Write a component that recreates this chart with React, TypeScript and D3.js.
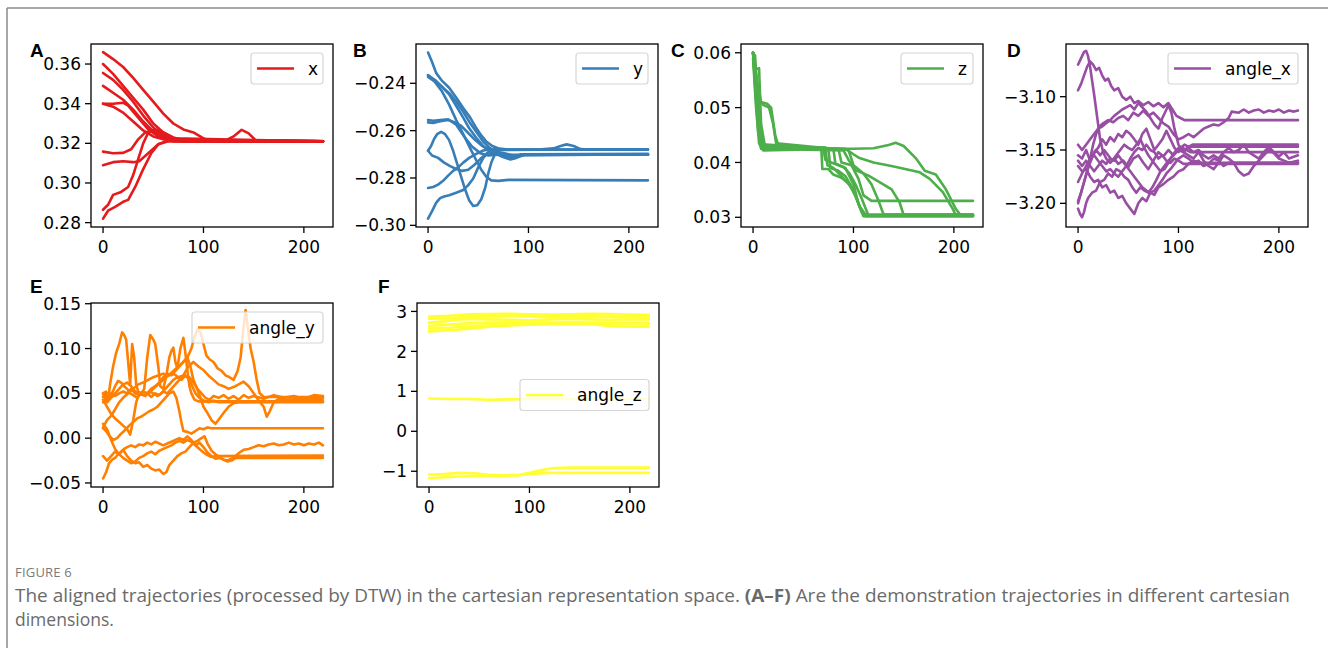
import React from 'react';
import * as d3 from 'd3';

type Pt = [number, number];

// trajectories, [step, value]
const xTraj: Pt[][] = [
  [[0,0.366],[10,0.3625],[20,0.3585],[30,0.353],[40,0.347],[50,0.341],[60,0.335],[70,0.330],[80,0.327],[90,0.3255],[100,0.3225],[110,0.321],[219,0.321]],
  [[0,0.360],[10,0.355],[20,0.349],[30,0.343],[40,0.337],[50,0.330],[60,0.3255],[70,0.323],[80,0.3215],[219,0.3212]],
  [[0,0.3555],[10,0.352],[20,0.347],[30,0.341],[40,0.334],[50,0.328],[60,0.3235],[70,0.3215],[219,0.321]],
  [[0,0.349],[10,0.3455],[20,0.342],[30,0.337],[40,0.331],[50,0.326],[60,0.3225],[70,0.321],[219,0.321]],
  [[0,0.340],[10,0.340],[20,0.3405],[25,0.339],[35,0.333],[45,0.327],[55,0.3235],[65,0.3215],[219,0.321]],
  [[0,0.340],[10,0.3385],[20,0.3355],[30,0.331],[40,0.3265],[50,0.3235],[60,0.322],[120,0.321],[130,0.3235],[138,0.3268],[145,0.325],[152,0.3215],[219,0.321]],
  [[0,0.3158],[10,0.315],[20,0.3152],[28,0.317],[35,0.322],[42,0.3255],[50,0.3265],[58,0.325],[68,0.322],[80,0.321],[219,0.321]],
  [[0,0.309],[10,0.3105],[20,0.311],[30,0.3105],[36,0.311],[45,0.315],[55,0.3195],[65,0.321],[219,0.321]],
  [[0,0.2865],[5,0.289],[10,0.294],[18,0.2955],[25,0.298],[30,0.304],[35,0.312],[40,0.320],[45,0.3255],[52,0.327],[60,0.3255],[70,0.3225],[219,0.321]],
  [[0,0.282],[5,0.286],[12,0.288],[20,0.2905],[25,0.2915],[32,0.298],[40,0.307],[48,0.315],[55,0.3195],[65,0.3215],[219,0.321]],
];

const yTraj: Pt[][] = [
  [[0,-0.227],[4,-0.231],[8,-0.2356],[14,-0.239],[21,-0.2419],[28,-0.246],[35,-0.2504],[42,-0.2545],[48,-0.2589],[53,-0.262],[58,-0.2646],[64,-0.2665],[71,-0.2676],[80,-0.268],[219,-0.268]],
  [[0,-0.2366],[8,-0.239],[15,-0.242],[22,-0.2445],[28,-0.2477],[35,-0.252],[41,-0.2562],[48,-0.2605],[55,-0.2647],[62,-0.2675],[68,-0.2689],[75,-0.2695],[85,-0.2705],[219,-0.270]],
  [[0,-0.2373],[4,-0.2385],[8,-0.2395],[14,-0.2415],[21,-0.2447],[28,-0.2495],[35,-0.2545],[41,-0.259],[48,-0.263],[56,-0.267],[65,-0.2695],[75,-0.270],[85,-0.2715],[95,-0.270],[219,-0.2702]],
  [[0,-0.2365],[7,-0.2395],[14,-0.2435],[21,-0.249],[28,-0.2555],[35,-0.2615],[42,-0.2675],[48,-0.2725],[53,-0.2765],[58,-0.2795],[63,-0.281],[70,-0.2812],[80,-0.2808],[219,-0.281]],
  [[0,-0.2565],[5,-0.2568],[10,-0.2562],[15,-0.2558],[20,-0.2555],[27,-0.2565],[33,-0.258],[40,-0.261],[47,-0.264],[54,-0.2665],[62,-0.268],[70,-0.2682],[110,-0.268],[125,-0.2675],[132,-0.2665],[138,-0.2658],[145,-0.2665],[152,-0.2678],[160,-0.268],[219,-0.268]],
  [[0,-0.2685],[3,-0.2665],[6,-0.2635],[9,-0.2615],[13,-0.2605],[17,-0.2615],[21,-0.264],[25,-0.2685],[29,-0.274],[33,-0.2795],[37,-0.285],[41,-0.2895],[45,-0.2918],[49,-0.2915],[53,-0.289],[57,-0.284],[60,-0.278],[63,-0.2735],[66,-0.2705],[70,-0.2695],[78,-0.2705],[85,-0.2715],[92,-0.270],[219,-0.2698]],
  [[0,-0.2842],[5,-0.2838],[10,-0.2828],[15,-0.2812],[20,-0.279],[25,-0.277],[30,-0.2755],[35,-0.2735],[41,-0.2715],[48,-0.2698],[55,-0.2684],[62,-0.2678],[75,-0.268],[219,-0.268]],
  [[0,-0.2972],[4,-0.294],[8,-0.2905],[12,-0.2885],[16,-0.2878],[21,-0.2873],[28,-0.2862],[35,-0.2851],[40,-0.283],[45,-0.2802],[50,-0.2755],[55,-0.2715],[61,-0.2685],[70,-0.2695],[80,-0.2715],[88,-0.271],[95,-0.2702],[219,-0.2702]],
  [[0,-0.2685],[4,-0.2705],[10,-0.2715],[16,-0.2735],[22,-0.275],[28,-0.2762],[34,-0.277],[40,-0.2765],[46,-0.2745],[52,-0.272],[58,-0.2698],[66,-0.2695],[74,-0.271],[82,-0.2722],[88,-0.2715],[96,-0.2702],[219,-0.2702]],
  [[0,-0.2555],[5,-0.2558],[12,-0.2555],[20,-0.2552],[28,-0.2575],[36,-0.2625],[44,-0.2668],[52,-0.2695],[60,-0.2705],[70,-0.2702],[219,-0.270]],
];

const zTraj: Pt[][] = [
  [[0,0.0600],[2,0.0595],[5,0.050],[7,0.0435],[10,0.0425],[68,0.0425],[69,0.0388],[75,0.0388],[80,0.0378],[88,0.0372],[95,0.0362],[102,0.034],[108,0.031],[112,0.0302],[219,0.0302]],
  [[0,0.060],[3,0.057],[6,0.0572],[8,0.047],[12,0.0428],[70,0.0425],[72,0.0405],[78,0.040],[85,0.0395],[92,0.039],[100,0.036],[105,0.0325],[110,0.0303],[219,0.0303]],
  [[0,0.060],[4,0.055],[8,0.051],[14,0.0507],[18,0.050],[22,0.045],[25,0.0432],[75,0.0425],[77,0.039],[85,0.0385],[92,0.0375],[100,0.035],[106,0.032],[112,0.0305],[219,0.0305]],
  [[0,0.060],[5,0.052],[10,0.0505],[16,0.050],[20,0.047],[23,0.0435],[80,0.0425],[82,0.0398],[90,0.0392],[96,0.038],[102,0.036],[108,0.0335],[115,0.0303],[219,0.0303]],
  [[0,0.059],[3,0.050],[6,0.0435],[10,0.0422],[85,0.0425],[88,0.040],[98,0.0395],[105,0.037],[110,0.034],[118,0.033],[219,0.0330]],
  [[0,0.060],[2,0.054],[5,0.046],[8,0.0425],[90,0.0422],[95,0.0405],[102,0.0386],[115,0.0376],[128,0.0362],[138,0.0351],[146,0.0327],[150,0.0304],[219,0.0304]],
  [[0,0.060],[3,0.052],[6,0.045],[12,0.043],[92,0.0425],[100,0.0415],[106,0.0408],[120,0.040],[139,0.0393],[166,0.0382],[176,0.037],[189,0.0346],[199,0.0315],[202,0.0303],[219,0.0303]],
  [[0,0.060],[4,0.051],[8,0.0435],[12,0.0425],[100,0.0425],[120,0.0426],[135,0.0432],[142,0.0436],[150,0.043],[162,0.0408],[171,0.0385],[182,0.0378],[192,0.0351],[202,0.0315],[207,0.0303],[219,0.0303]],
  [[0,0.060],[2,0.056],[5,0.0475],[8,0.0428],[72,0.0427],[74,0.0395],[80,0.039],[88,0.0375],[98,0.0355],[105,0.0325],[110,0.0302],[219,0.0302]],
  [[0,0.060],[3,0.0555],[6,0.049],[9,0.0433],[95,0.0423],[100,0.0395],[110,0.038],[118,0.036],[125,0.033],[130,0.0305],[219,0.0305]],
];

const angleXTraj: Pt[][] = [
  [[0,-3.07],[2,-3.066],[4,-3.062],[6,-3.058],[8,-3.057],[10,-3.062],[12,-3.072],[14,-3.085],[16,-3.098],[18,-3.112],[20,-3.126],[22,-3.14],[25,-3.152],[28,-3.158],[32,-3.162],[36,-3.158],[40,-3.163],[45,-3.16],[50,-3.166],[55,-3.158],[60,-3.155],[65,-3.162],[70,-3.168],[75,-3.16],[80,-3.152],[85,-3.156],[90,-3.15],[95,-3.155],[100,-3.148],[105,-3.152],[110,-3.147],[219,-3.147]],
  [[0,-3.094],[3,-3.088],[6,-3.08],[9,-3.072],[12,-3.067],[15,-3.07],[18,-3.075],[21,-3.073],[24,-3.08],[27,-3.085],[30,-3.083],[33,-3.09],[36,-3.094],[40,-3.092],[44,-3.1],[48,-3.103],[52,-3.1],[56,-3.106],[60,-3.104],[65,-3.108],[70,-3.105],[75,-3.109],[80,-3.106],[85,-3.11],[90,-3.106],[94,-3.112],[98,-3.118],[102,-3.12],[106,-3.122],[219,-3.122]],
  [[0,-3.2],[3,-3.19],[6,-3.18],[9,-3.17],[12,-3.158],[15,-3.145],[18,-3.135],[21,-3.128],[25,-3.125],[30,-3.122],[35,-3.124],[40,-3.12],[45,-3.118],[50,-3.122],[55,-3.115],[60,-3.118],[65,-3.113],[70,-3.118],[75,-3.115],[80,-3.12],[85,-3.125],[90,-3.128],[95,-3.135],[100,-3.14],[105,-3.138],[110,-3.135],[115,-3.138],[120,-3.134],[125,-3.13],[130,-3.128],[135,-3.126],[140,-3.127],[145,-3.124],[150,-3.12],[153,-3.114],[160,-3.115],[165,-3.112],[170,-3.115],[175,-3.113],[180,-3.112],[185,-3.115],[190,-3.113],[195,-3.114],[200,-3.112],[205,-3.115],[210,-3.113],[215,-3.114],[219,-3.113]],
  [[0,-3.165],[4,-3.17],[8,-3.168],[12,-3.175],[16,-3.18],[20,-3.178],[24,-3.185],[28,-3.183],[32,-3.19],[36,-3.188],[40,-3.195],[44,-3.193],[48,-3.2],[52,-3.205],[56,-3.21],[60,-3.2],[64,-3.195],[68,-3.198],[72,-3.19],[76,-3.192],[80,-3.185],[85,-3.182],[90,-3.178],[95,-3.175],[100,-3.17],[105,-3.168],[110,-3.163],[115,-3.16],[120,-3.162],[219,-3.162]],
  [[0,-3.205],[2,-3.21],[4,-3.213],[6,-3.208],[8,-3.2],[10,-3.195],[14,-3.19],[18,-3.188],[22,-3.18],[26,-3.178],[30,-3.172],[34,-3.175],[38,-3.168],[42,-3.17],[46,-3.175],[50,-3.178],[54,-3.185],[58,-3.19],[62,-3.185],[66,-3.188],[70,-3.19],[74,-3.185],[78,-3.178],[82,-3.17],[86,-3.165],[90,-3.16],[95,-3.155],[100,-3.15],[105,-3.152],[110,-3.155],[115,-3.158],[120,-3.152],[125,-3.16],[130,-3.165],[135,-3.168],[140,-3.162],[145,-3.155],[150,-3.158],[155,-3.162],[160,-3.17],[165,-3.174],[170,-3.172],[175,-3.165],[180,-3.16],[185,-3.155],[190,-3.15],[195,-3.153],[200,-3.158],[205,-3.16],[210,-3.162],[219,-3.16]],
  [[0,-3.155],[4,-3.158],[8,-3.15],[12,-3.16],[16,-3.152],[20,-3.148],[24,-3.14],[28,-3.145],[32,-3.138],[36,-3.142],[40,-3.135],[44,-3.138],[48,-3.132],[52,-3.135],[56,-3.14],[60,-3.145],[64,-3.135],[68,-3.13],[72,-3.14],[76,-3.15],[80,-3.145],[84,-3.14],[88,-3.132],[92,-3.14],[96,-3.148],[100,-3.152],[104,-3.148],[108,-3.15],[112,-3.152],[219,-3.152]],
  [[0,-3.16],[4,-3.165],[8,-3.16],[12,-3.165],[16,-3.17],[20,-3.165],[24,-3.16],[28,-3.163],[32,-3.158],[36,-3.16],[40,-3.155],[44,-3.16],[48,-3.165],[52,-3.17],[56,-3.175],[60,-3.18],[64,-3.185],[68,-3.188],[72,-3.19],[76,-3.188],[80,-3.183],[84,-3.178],[88,-3.172],[92,-3.168],[96,-3.163],[100,-3.158],[105,-3.155],[110,-3.158],[115,-3.162],[120,-3.16],[125,-3.165],[130,-3.163],[135,-3.158],[140,-3.16],[145,-3.165],[150,-3.162],[219,-3.162]],
  [[0,-3.145],[4,-3.15],[8,-3.145],[12,-3.14],[16,-3.135],[20,-3.13],[24,-3.128],[28,-3.125],[32,-3.122],[36,-3.118],[40,-3.115],[44,-3.112],[48,-3.11],[52,-3.108],[56,-3.112],[60,-3.106],[64,-3.11],[68,-3.114],[72,-3.12],[76,-3.126],[80,-3.13],[84,-3.12],[88,-3.112],[90,-3.108],[93,-3.115],[96,-3.13],[100,-3.145],[104,-3.15],[110,-3.148],[115,-3.152],[120,-3.15],[125,-3.155],[130,-3.158],[135,-3.155],[140,-3.158],[145,-3.152],[150,-3.148],[155,-3.152],[160,-3.15],[165,-3.145],[170,-3.152],[175,-3.155],[180,-3.158],[185,-3.152],[190,-3.147],[195,-3.152],[200,-3.156],[205,-3.152],[210,-3.158],[219,-3.155]],
  [[0,-3.18],[4,-3.172],[8,-3.165],[12,-3.158],[16,-3.155],[20,-3.16],[24,-3.165],[28,-3.17],[32,-3.168],[36,-3.172],[40,-3.175],[44,-3.17],[48,-3.165],[52,-3.158],[56,-3.152],[60,-3.148],[64,-3.15],[68,-3.145],[72,-3.15],[76,-3.152],[80,-3.158],[84,-3.155],[88,-3.16],[92,-3.162],[96,-3.158],[100,-3.16],[105,-3.163],[219,-3.163]],
  [[0,-3.198],[3,-3.19],[6,-3.18],[9,-3.17],[12,-3.162],[15,-3.155],[18,-3.15],[22,-3.155],[26,-3.15],[30,-3.155],[34,-3.16],[38,-3.155],[42,-3.15],[46,-3.145],[50,-3.148],[54,-3.15],[58,-3.145],[62,-3.14],[66,-3.148],[70,-3.155],[74,-3.16],[78,-3.165],[82,-3.17],[86,-3.168],[90,-3.162],[94,-3.155],[98,-3.15],[102,-3.148],[106,-3.145],[110,-3.147],[114,-3.145],[219,-3.145]],
];

const angleYTraj: Pt[][] = [
  [[0,0.046],[3,0.05],[5,0.042],[7,0.06],[10,0.08],[13,0.095],[16,0.105],[19,0.118],[21,0.115],[23,0.11],[25,0.085],[27,0.06],[29,0.105],[31,0.09],[33,0.06],[35,0.052],[38,0.05],[41,0.055],[44,0.09],[47,0.115],[50,0.11],[52,0.105],[55,0.08],[57,0.058],[60,0.055],[63,0.07],[66,0.09],[68,0.097],[70,0.101],[72,0.085],[74,0.078],[77,0.1],[80,0.112],[82,0.095],[84,0.075],[86,0.058],[88,0.05],[91,0.043],[95,0.041],[219,0.041]],
  [[0,0.04],[4,0.045],[8,0.05],[12,0.047],[16,0.05],[20,0.052],[24,0.05],[28,0.055],[32,0.05],[36,0.048],[40,0.052],[44,0.05],[48,0.055],[52,0.058],[56,0.062],[60,0.068],[64,0.072],[68,0.07],[72,0.075],[76,0.08],[80,0.085],[84,0.09],[88,0.1],[91,0.113],[94,0.121],[97,0.118],[100,0.105],[103,0.092],[106,0.088],[110,0.085],[114,0.078],[118,0.075],[122,0.07],[126,0.068],[130,0.065],[134,0.075],[137,0.09],[140,0.125],[142,0.143],[144,0.125],[147,0.1],[150,0.085],[153,0.065],[156,0.05],[160,0.046],[219,0.046]],
  [[0,0.012],[4,0.02],[8,0.025],[12,0.032],[16,0.04],[20,0.045],[25,0.05],[30,0.055],[35,0.06],[40,0.062],[45,0.065],[50,0.068],[55,0.07],[60,0.072],[65,0.07],[70,0.072],[75,0.068],[80,0.07],[85,0.08],[90,0.085],[95,0.08],[100,0.076],[105,0.07],[110,0.065],[115,0.06],[120,0.058],[125,0.055],[130,0.057],[135,0.06],[140,0.063],[145,0.058],[150,0.05],[155,0.042],[160,0.035],[163,0.024],[166,0.03],[170,0.04],[175,0.044],[180,0.043],[219,0.044]],
  [[0,0.05],[4,0.04],[8,0.045],[12,0.05],[16,0.055],[20,0.06],[24,0.062],[28,0.058],[32,0.052],[36,0.05],[40,0.048],[45,0.05],[50,0.055],[55,0.06],[60,0.065],[65,0.07],[70,0.075],[75,0.08],[80,0.085],[84,0.09],[87,0.08],[90,0.065],[93,0.057],[97,0.045],[100,0.035],[104,0.028],[108,0.02],[112,0.016],[116,0.022],[120,0.028],[125,0.035],[130,0.039],[135,0.04],[219,0.04]],
  [[0,0.011],[3,0.008],[6,0.003],[10,-0.002],[14,0.0],[18,0.005],[22,0.009],[26,0.014],[30,0.018],[34,0.022],[38,0.024],[42,0.027],[46,0.03],[50,0.032],[54,0.035],[58,0.04],[62,0.045],[66,0.05],[70,0.052],[73,0.045],[76,0.03],[78,0.018],[80,0.008],[84,0.007],[88,0.005],[92,0.008],[96,0.011],[100,0.01],[104,0.012],[108,0.011],[219,0.011]],
  [[0,-0.045],[3,-0.038],[6,-0.028],[9,-0.024],[12,-0.022],[15,-0.018],[18,-0.015],[21,-0.012],[24,-0.01],[28,-0.008],[32,-0.01],[36,-0.007],[40,-0.008],[44,-0.005],[48,-0.007],[52,-0.004],[56,-0.006],[60,-0.008],[64,-0.006],[68,-0.004],[72,-0.002],[76,0.0],[80,-0.002],[84,0.002],[88,-0.002],[92,-0.008],[96,-0.012],[100,-0.016],[104,-0.019],[108,-0.021],[112,-0.02],[219,-0.0195]],
  [[0,-0.02],[4,-0.025],[8,-0.02],[12,-0.015],[16,-0.018],[20,-0.013],[24,-0.02],[28,-0.025],[32,-0.028],[36,-0.027],[40,-0.032],[44,-0.03],[48,-0.034],[52,-0.036],[56,-0.035],[60,-0.04],[63,-0.038],[66,-0.03],[70,-0.025],[74,-0.02],[78,-0.017],[82,-0.015],[86,-0.01],[90,-0.005],[94,-0.003],[98,0.0],[101,0.002],[104,-0.006],[108,-0.014],[112,-0.018],[116,-0.021],[120,-0.024],[124,-0.025],[128,-0.023],[132,-0.02],[136,-0.016],[140,-0.013],[145,-0.012],[150,-0.01],[155,-0.008],[160,-0.009],[165,-0.007],[170,-0.006],[175,-0.008],[180,-0.007],[185,-0.005],[190,-0.007],[195,-0.006],[200,-0.008],[205,-0.006],[210,-0.007],[215,-0.005],[219,-0.008]],
  [[0,0.016],[4,0.01],[8,-0.002],[12,-0.012],[16,-0.018],[20,-0.022],[24,-0.025],[28,-0.028],[32,-0.026],[36,-0.022],[40,-0.02],[44,-0.017],[48,-0.015],[52,-0.018],[56,-0.014],[60,-0.012],[64,-0.01],[68,-0.008],[72,-0.005],[76,-0.003],[80,-0.005],[84,-0.002],[88,-0.004],[92,-0.008],[96,-0.005],[100,-0.01],[104,-0.016],[108,-0.02],[112,-0.023],[116,-0.022],[120,-0.024],[124,-0.026],[128,-0.025],[132,-0.022],[219,-0.022]],
  [[0,0.043],[4,0.035],[8,0.027],[12,0.022],[16,0.018],[20,0.014],[24,0.01],[27,0.004],[30,0.02],[33,0.04],[36,0.05],[40,0.048],[44,0.05],[48,0.046],[52,0.05],[56,0.048],[60,0.052],[64,0.05],[68,0.055],[72,0.06],[76,0.065],[80,0.07],[84,0.068],[88,0.06],[92,0.05],[96,0.045],[100,0.042],[105,0.04],[110,0.042],[115,0.04],[219,0.041]],
  [[0,0.05],[3,0.052],[6,0.045],[9,0.05],[12,0.058],[15,0.064],[18,0.062],[21,0.058],[24,0.055],[27,0.05],[30,0.048],[34,0.045],[38,0.05],[42,0.047],[46,0.052],[50,0.05],[54,0.047],[58,0.05],[62,0.055],[66,0.06],[70,0.065],[74,0.068],[78,0.065],[82,0.07],[86,0.068],[90,0.062],[94,0.055],[98,0.05],[102,0.045],[106,0.043],[110,0.047],[115,0.045],[120,0.048],[125,0.044],[130,0.047],[135,0.043],[140,0.048],[145,0.045],[150,0.047],[160,0.044],[170,0.048],[180,0.045],[190,0.047],[200,0.044],[210,0.048],[219,0.047]],
];

const angleZTraj: Pt[][] = [
  [[0,2.875],[20,2.89],[40,2.93],[60,2.935],[80,2.94],[100,2.93],[120,2.925],[140,2.93],[160,2.94],[180,2.935],[200,2.92],[219,2.915]],
  [[0,2.82],[20,2.83],[40,2.87],[60,2.88],[80,2.885],[100,2.875],[120,2.87],[140,2.875],[160,2.88],[180,2.86],[200,2.855],[219,2.85]],
  [[0,2.72],[15,2.75],[30,2.8],[45,2.81],[60,2.8],[80,2.79],[100,2.78],[120,2.8],[140,2.81],[160,2.8],[180,2.79],[200,2.8],[219,2.8]],
  [[0,2.64],[20,2.67],[40,2.7],[60,2.72],[80,2.72],[100,2.71],[120,2.72],[140,2.73],[160,2.72],[180,2.7],[200,2.71],[219,2.7]],
  [[0,2.58],[20,2.59],[40,2.62],[60,2.66],[80,2.68],[100,2.69],[120,2.7],[140,2.71],[160,2.69],[180,2.63],[200,2.62],[219,2.62]],
  [[0,2.5],[20,2.53],[40,2.57],[60,2.62],[80,2.65],[100,2.67],[120,2.68],[140,2.68],[160,2.68],[180,2.69],[200,2.7],[219,2.7]],
  [[0,0.82],[20,0.81],[40,0.81],[60,0.79],[80,0.8],[100,0.81],[120,0.81],[219,0.81]],
  [[0,-1.08],[15,-1.07],[30,-1.04],[45,-1.05],[60,-1.09],[75,-1.1],[90,-1.09],[100,-1.04],[112,-0.97],[125,-0.92],[140,-0.91],[219,-0.91]],
  [[0,-1.17],[15,-1.15],[30,-1.13],[45,-1.12],[60,-1.12],[75,-1.11],[90,-1.1],[105,-1.06],[120,-1.04],[140,-1.04],[219,-1.04]],
];

const seriesNames = ['x', 'y', 'z', 'angle_x', 'angle_y', 'angle_z'];
const panelLetters = ['A', 'B', 'C', 'D', 'E', 'F'];
const xTicks = [0, 100, 200];
const yTickSets = [
  [0.28, 0.30, 0.32, 0.34, 0.36],
  [-0.30, -0.28, -0.26, -0.24],
  [0.03, 0.04, 0.05, 0.06],
  [-3.20, -3.15, -3.10],
  [-0.05, 0.00, 0.05, 0.10, 0.15],
  [-1, 0, 1, 2, 3],
];
const yDomains: [number, number][] = [
  [0.2778, 0.3701],
  [-0.3007, -0.2234],
  [0.02823, 0.0616],
  [-3.2222, -3.0506],
  [-0.0545, 0.1508],
  [-1.394, 3.211],
];
const allTraj = [xTraj, yTraj, zTraj, angleXTraj, angleYTraj, angleZTraj];

// layout (pixels)
const boxes = [
  { left: 91, top: 44, bottom: 227, lx: 30, ly: 57, leg: 'ur', legW: 72 },
  { left: 416, top: 44, bottom: 227, lx: 353, ly: 57, leg: 'ur', legW: 72 },
  { left: 741, top: 44, bottom: 227, lx: 671, ly: 57, leg: 'ur', legW: 72 },
  { left: 1066, top: 44, bottom: 227, lx: 1007, ly: 57, leg: 'ur', legW: 130 },
  { left: 91, top: 303, bottom: 487, lx: 30, ly: 293, leg: 'ur', legW: 131 },
  { left: 417, top: 303, bottom: 487, lx: 378, ly: 293, leg: 'cr', legW: 129 },
];
const plotW = 242;
const fmt = [d3.format('.2f'), d3.format('.2f'), d3.format('.2f'), d3.format('.2f'), d3.format('.2f'), d3.format('d')];
const font = '"DejaVu Sans", sans-serif';
const lw = 2.6;

function Panel({ i }: { i: number }) {
  const b = boxes[i];
  const color = d3.schemeSet1[i];
  const x = d3.scaleLinear().domain([-12, 229]).range([b.left, b.left + plotW]);
  const y = d3.scaleLinear().domain(yDomains[i]).range([b.bottom, b.top]);
  const line = d3.line<Pt>().x(d => x(d[0])).y(d => y(d[1]));
  const legH = 31;
  const legX = b.left + plotW - 10 - b.legW;
  const legY = b.leg === 'ur' ? b.top + 9 : (b.top + b.bottom) / 2 - legH / 2;
  return (
    <g>
      <clipPath id={`clip${i}`}>
        <rect x={b.left} y={b.top} width={plotW} height={b.bottom - b.top} />
      </clipPath>
      <g clipPath={`url(#clip${i})`}>
        {allTraj[i].map((t, k) => (
          <path key={k} d={line(t) || ''} fill="none" stroke={color} strokeWidth={lw} strokeLinejoin="round" strokeLinecap="round" />
        ))}
      </g>
      <rect x={b.left} y={b.top} width={plotW} height={b.bottom - b.top} fill="none" stroke="#000" strokeWidth={1.3} />
      {yTickSets[i].map(t => (
        <g key={t}>
          <line x1={b.left - 6} x2={b.left} y1={y(t)} y2={y(t)} stroke="#000" strokeWidth={1.3} />
          <text x={b.left - 10} y={y(t)} dy="0.36em" textAnchor="end" fontSize={17} fontFamily={font}>{fmt[i](t)}</text>
        </g>
      ))}
      {xTicks.map(t => (
        <g key={t}>
          <line x1={x(t)} x2={x(t)} y1={b.bottom} y2={b.bottom + 6} stroke="#000" strokeWidth={1.3} />
          <text x={x(t)} y={b.bottom + 26} textAnchor="middle" fontSize={17} fontFamily={font}>{t}</text>
        </g>
      ))}
      <rect x={legX} y={legY} width={b.legW} height={legH} rx={3} fill="#fff" fillOpacity={0.8} stroke="#d6d6d6" strokeWidth={1.2} />
      <line x1={legX + 6} x2={legX + 43} y1={legY + legH / 2} y2={legY + legH / 2} stroke={color} strokeWidth={lw} />
      <text x={legX + 57} y={legY + legH / 2} dy="0.36em" fontSize={17} fontFamily={font}>{seriesNames[i]}</text>
      <text x={b.lx} y={b.ly} fontSize={19} fontWeight="bold" fontFamily='"Liberation Sans", Arial, sans-serif'>{panelLetters[i]}</text>
    </g>
  );
}

export default function App() {
  return (
    <svg width={1328} height={648} style={{ position: 'absolute', left: 0, top: 0 }}>
      <rect width={1328} height={648} fill="#fff" />
      <line x1={7} x2={1328} y1={8} y2={8} stroke="#8a8a8a" strokeWidth={1.5} />
      <line x1={7} x2={7} y1={8} y2={648} stroke="#8a8a8a" strokeWidth={1.5} />
      {boxes.map((_, i) => <Panel key={i} i={i} />)}
      <text x={15} y={577} fontSize={13} fill="#7a7a7a" fontFamily='"Open Sans", sans-serif' letterSpacing={0.2}>FIGURE 6</text>
      <text x={15} y={602} fontSize={17.5} fill="#6a6a6a" fontFamily='"Open Sans", sans-serif' textLength={1275} lengthAdjust="spacingAndGlyphs">
        The aligned trajectories (processed by DTW) in the cartesian representation space. <tspan fontWeight="bold">(A–F)</tspan> Are the demonstration trajectories in different cartesian
      </text>
      <text x={15} y={626} fontSize={17.5} fill="#6a6a6a" fontFamily='"Open Sans", sans-serif'>dimensions.</text>
    </svg>
  );
}
